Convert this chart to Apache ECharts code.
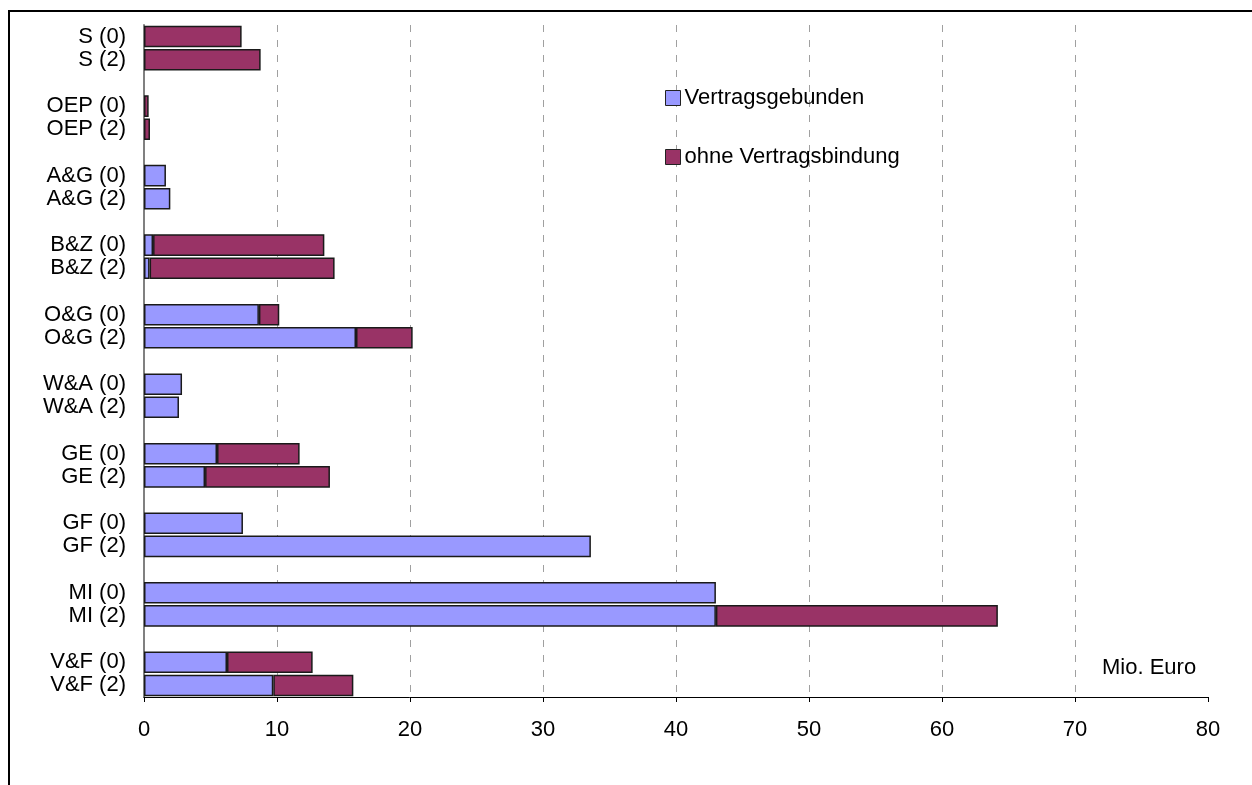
<!DOCTYPE html>
<html>
<head>
<meta charset="utf-8">
<script src="https://cdn.jsdelivr.net/npm/echarts@6/dist/echarts.min.js"></script>
<style>
  html, body { margin: 0; padding: 0; background: #fff; }
  #chart { width: 1252px; height: 785px; }
</style>
</head>
<body>
<div id="chart"></div>
<script>
// groups from top to bottom, each has a (0) and a (2) row
const groups = ['S', 'OEP', 'A&G', 'B&Z', 'O&G', 'W&A', 'GE', 'GF', 'MI', 'V&F']
const vertrag0 = [0, 0, 1.65, 0.68, 8.64, 2.86, 5.49, 7.44, 43.0, 6.24]
const ohne0 = [7.34, 0.35, 0, 12.88, 1.53, 0, 6.21, 0, 0, 6.44]
const vertrag2 = [0, 0, 1.98, 0.42, 15.94, 2.63, 4.59, 33.6, 43.0, 9.72]
const ohne2 = [8.77, 0.45, 0, 13.91, 4.26, 0, 9.39, 0, 21.2, 6.02]
const xTicks = [0, 10, 20, 30, 40, 50, 60, 70, 80]

const font = 'Liberation Sans, Arial, sans-serif'

// build rows with an empty slot between groups
const categories = []
const vertragData = []
const ohneData = []
const val = (v) => (v ? v : '-')
groups.forEach((g, i) => {
  categories.push(g + ' (0)')
  vertragData.push(val(vertrag0[i]))
  ohneData.push(val(ohne0[i]))
  categories.push(g + ' (2)')
  vertragData.push(val(vertrag2[i]))
  ohneData.push(val(ohne2[i]))
  if (i < groups.length - 1) {
    categories.push('gap' + i)
    vertragData.push('-')
    ohneData.push('-')
  }
})

const chart = echarts.init(document.getElementById('chart'))
chart.setOption({
  animation: false,
  color: ['#9999FF', '#993366'],
  grid: { left: 144, right: 44, top: 25, bottom: 88 },
  legend: {
    orient: 'vertical',
    left: 665,
    top: 87,
    padding: 0,
    itemGap: 37,
    itemWidth: 15,
    itemHeight: 15,
    icon: 'rect',
    textStyle: { fontFamily: font, fontSize: 22, color: '#000', padding: [0, 0, 0, -1] },
    itemStyle: { borderColor: '#222', borderWidth: 1 },
    data: ['Vertragsgebunden', 'ohne Vertragsbindung'],
  },
  xAxis: {
    type: 'value',
    min: xTicks[0],
    max: xTicks[xTicks.length - 1],
    interval: 10,
    axisLine: { show: true, lineStyle: { color: '#000', width: 1 } },
    axisTick: { show: true, length: 5, lineStyle: { color: '#000' } },
    axisLabel: { color: '#000', fontFamily: font, fontSize: 22, margin: 22 },
    splitLine: {
      show: true,
      showMinLine: false,
      showMaxLine: false,
      lineStyle: { color: '#a0a0a0', type: [7, 8], width: 1 },
    },
  },
  yAxis: {
    type: 'category',
    inverse: true,
    data: categories,
    axisLine: { show: true, lineStyle: { color: '#808080', width: 2 } },
    axisTick: { show: false },
    axisLabel: {
      color: '#000',
      fontFamily: font,
      fontSize: 22,
      margin: 18,
      interval: 0,
      formatter: (v) => (v.indexOf('gap') === 0 ? '' : v),
    },
  },
  series: [
    {
      name: 'Vertragsgebunden',
      type: 'bar',
      stack: 'total',
      barCategoryGap: '7%',
      itemStyle: { borderColor: '#1a1a1a', borderWidth: 1.5 },
      data: vertragData,
    },
    {
      name: 'ohne Vertragsbindung',
      type: 'bar',
      stack: 'total',
      barCategoryGap: '7%',
      itemStyle: { borderColor: '#1a1a1a', borderWidth: 1.5 },
      data: ohneData,
    },
  ],
  graphic: [
    {
      type: 'rect',
      shape: { x: 9, y: 11, width: 1400, height: 900 },
      style: { fill: 'none', stroke: '#000', lineWidth: 2 },
      silent: true,
    },
    {
      type: 'text',
      left: 1102,
      top: 657,
      style: { text: 'Mio. Euro', font: '22px ' + font, fill: '#000' },
    },
  ],
})
</script>
</body>
</html>
